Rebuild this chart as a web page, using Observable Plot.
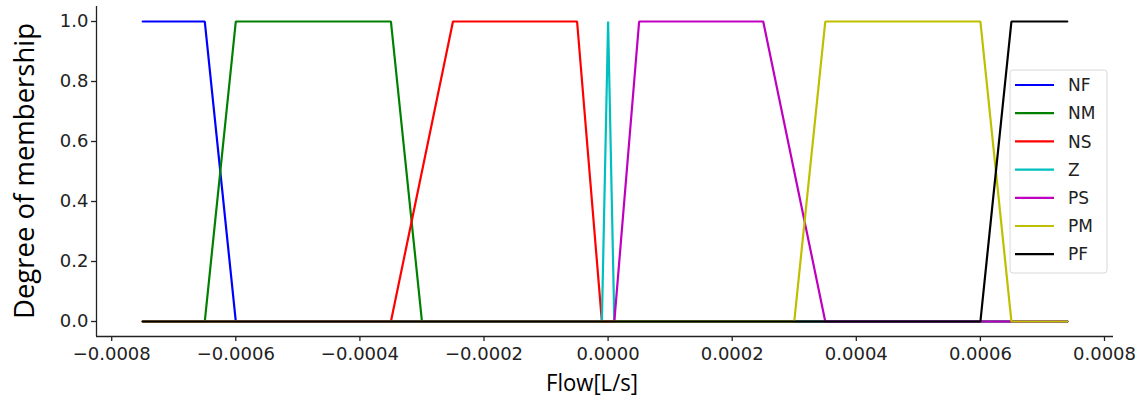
<!DOCTYPE html>
<html>
<head>
<meta charset="utf-8">
<script src="https://cdn.jsdelivr.net/npm/d3@7"></script>
<script src="https://cdn.jsdelivr.net/npm/@observablehq/plot@0.6"></script>
<style>
  html, body { margin: 0; padding: 0; background: #fff; }
  #chart { position: relative; width: 1144px; height: 400px; }
  svg { display: block; }
</style>
</head>
<body>
<div id="chart"></div>
<script>
// ---- Data (membership function breakpoints) ----
const names = ["NF", "NM", "NS", "Z", "PS", "PM", "PF"];

const NF_x = [-0.00075, -0.00065, -0.0006, 0.00074];
const NF_y = [1, 1, 0, 0];

const NM_x = [-0.00075, -0.00065, -0.0006, -0.00035, -0.0003, 0.00074];
const NM_y = [0, 0, 1, 1, 0, 0];

const NS_x = [-0.00075, -0.00035, -0.00025, -0.00005, -0.00001, 0.00074];
const NS_y = [0, 0, 1, 1, 0, 0];

const Z_x = [-0.00075, -0.00001, 0, 0.00001, 0.00074];
const Z_y = [0, 0, 1, 0, 0];

const PS_x = [-0.00075, 0.00001, 0.00005, 0.00025, 0.00035, 0.00074];
const PS_y = [0, 0, 1, 1, 0, 0];

const PM_x = [-0.00075, 0.0003, 0.00035, 0.0006, 0.00065, 0.00074];
const PM_y = [0, 0, 1, 1, 0, 0];

const PF_x = [-0.00075, 0.0006, 0.00065, 0.00074];
const PF_y = [0, 0, 1, 1];

const xTicks = [-0.0008, -0.0006, -0.0004, -0.0002, 0, 0.0002, 0.0004, 0.0006, 0.0008];
const yTicks = [0, 0.2, 0.4, 0.6, 0.8, 1.0];

const xLabel = "Flow[L/s]";
const yLabel = "Degree of membership";

// ---- Styles ----
const colors = ["#0000ff", "#008000", "#ff0000", "#00bfbf", "#bf00bf", "#bfbf00", "#000000"];

const seriesX = [NF_x, NM_x, NS_x, Z_x, PS_x, PM_x, PF_x];
const seriesY = [NF_y, NM_y, NS_y, Z_y, PS_y, PM_y, PF_y];

const series = names.map((name, i) =>
  seriesX[i].map((x, j) => ({ name, x, y: seriesY[i][j] }))
);

const xDomain = [-0.0008245, 0.0008145];
const yDomain = [-0.05, 1.05];

const fmtX = d => (d < 0 ? "\u2212" : "") + Math.abs(d).toFixed(4);

const plot = Plot.plot({
  width: 1144,
  height: 400,
  marginLeft: 96,
  marginRight: 31,
  marginTop: 6,
  marginBottom: 64,
  style: { fontFamily: "'DejaVu Sans', sans-serif", fontSize: "18px", color: "#222", background: "#fff" },
  x: { domain: xDomain, label: null },
  y: { domain: yDomain, label: null },
  color: { domain: names, range: colors },
  marks: [
    ...series.map((data, i) =>
      Plot.line(data, { x: "x", y: "y", stroke: colors[i], strokeWidth: 2.2, strokeLinejoin: "miter" })
    ),
    Plot.ruleX([xDomain[0]], { y1: yDomain[0], y2: yDomain[1], stroke: "#222", strokeWidth: 1.3 }),
    Plot.ruleY([yDomain[0]], { x1: xDomain[0], x2: xDomain[1], stroke: "#222", strokeWidth: 1.3 }),
    Plot.axisX({ ticks: xTicks, tickFormat: fmtX, tickSize: 5, tickPadding: 6, label: null, stroke: "#222", strokeWidth: 1.3 }),
    Plot.axisY({ ticks: yTicks, tickFormat: d => d.toFixed(1), tickSize: 5, tickPadding: 3, label: null, stroke: "#222", strokeWidth: 1.3 })
  ]
});

document.getElementById("chart").appendChild(plot);

// ---- Axis labels & legend ----
const svg = d3.select(plot);

svg.append("text")
  .attr("x", 592)
  .attr("y", 391)
  .attr("text-anchor", "middle")
  .attr("font-family", "'Open Sans', 'Noto Sans', sans-serif")
  .attr("font-size", 24)
  .attr("textLength", 92)
  .attr("lengthAdjust", "spacingAndGlyphs")
  .attr("fill", "#000")
  .text(xLabel);

svg.append("text")
  .attr("transform", "translate(34,171) rotate(-90)")
  .attr("text-anchor", "middle")
  .attr("font-family", "'Open Sans', 'Noto Sans', sans-serif")
  .attr("font-size", 27.5)
  .attr("fill", "#000")
  .text(yLabel);

const lg = svg.append("g").attr("transform", "translate(1010,70)");
lg.append("rect")
  .attr("width", 97)
  .attr("height", 203)
  .attr("rx", 3)
  .attr("fill", "#fff")
  .attr("fill-opacity", 0.85)
  .attr("stroke", "#d8d8d8")
  .attr("stroke-width", 1);

names.forEach((name, i) => {
  const cy = 15 + i * 28.2;
  lg.append("line")
    .attr("x1", 5).attr("x2", 44)
    .attr("y1", cy).attr("y2", cy)
    .attr("stroke", colors[i])
    .attr("stroke-width", 2.2);
  lg.append("text")
    .attr("x", 58)
    .attr("y", cy)
    .attr("dy", "0.36em")
    .attr("text-anchor", "start")
    .attr("font-family", "'DejaVu Sans', sans-serif")
    .attr("font-size", 17)
    .attr("fill", "#222")
    .text(name);
});
</script>
</body>
</html>
